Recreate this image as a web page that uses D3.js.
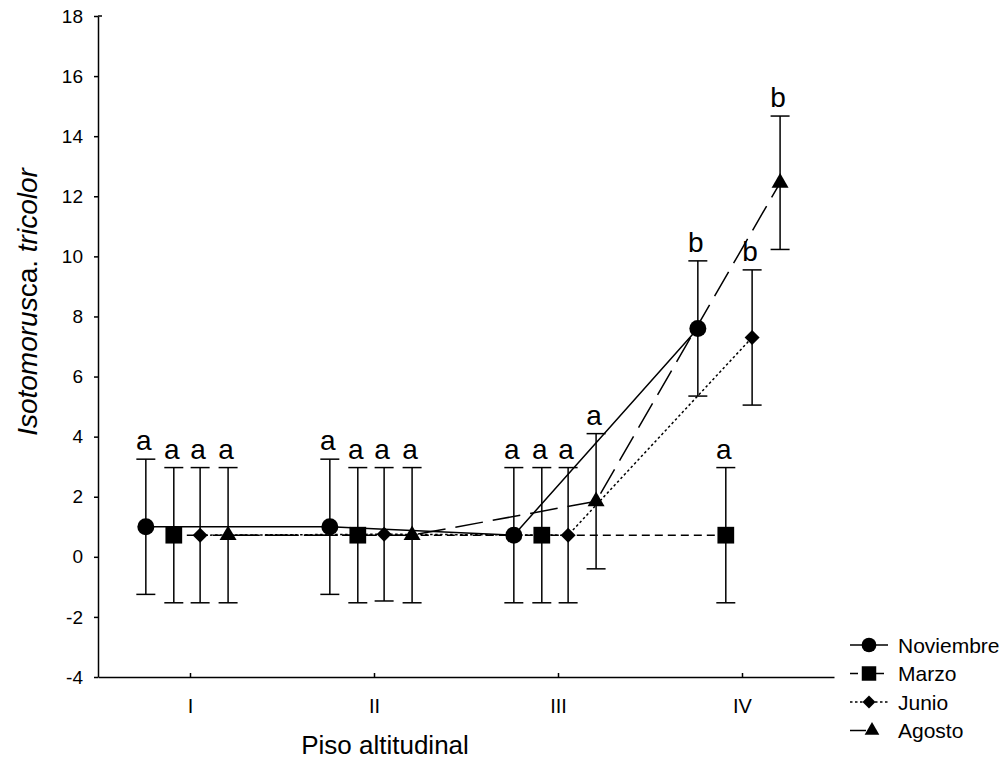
<!DOCTYPE html>
<html>
<head>
<meta charset="utf-8">
<script src="https://cdn.jsdelivr.net/npm/d3@7"></script>
<style>
  body { margin: 0; background: #fff; }
  text { font-family: "Liberation Sans", Arial, sans-serif; }
</style>
</head>
<body>
<div id="chart"></div>
<script>
// categories and series
var categories = ["I", "II", "III", "IV"];
var seriesNames = ["Noviembre", "Marzo", "Junio", "Agosto"];

var noviembre = [1.0, 1.0, 0.72, 7.6];
var marzo = [0.72, 0.72, 0.72, 0.72];
var junio = [0.72, 0.75, 0.72, 7.3];
var agosto = [0.72, 0.72, 1.85, 12.45];

var noviembreErr = [2.25, 2.25, 2.25, 2.25];
var marzoErr = [2.25, 2.25, 2.25, 2.25];
var junioErr = [2.25, 2.22, 2.25, 2.25];
var agostoErr = [2.25, 2.25, 2.25, 2.22];

var noviembreLetters = ["a", "a", "a", "b"];
var marzoLetters = ["a", "a", "a", "a"];
var junioLetters = ["a", "a", "a", "b"];
var agostoLetters = ["a", "a", "a", "b"];

var yTicks = [-4, -2, 0, 2, 4, 6, 8, 10, 12, 14, 16, 18];

var width = 1008, height = 766;

var series = [
  { name: seriesNames[0], values: noviembre, err: noviembreErr, letters: noviembreLetters,
    dodge: -0.24, dash: null, symbol: d3.symbolCircle, size: 227, rotate: 0 },
  { name: seriesNames[1], values: marzo, err: marzoErr, letters: marzoLetters,
    dodge: -0.088, dash: "8,5", symbol: d3.symbolSquare, size: 280, rotate: 0 },
  { name: seriesNames[2], values: junio, err: junioErr, letters: junioLetters,
    dodge: 0.055, dash: "2.5,2.5", symbol: d3.symbolSquare, size: 112, rotate: 45 },
  { name: seriesNames[3], values: agosto, err: agostoErr, letters: agostoLetters,
    dodge: 0.207, dash: "28,10", symbol: d3.symbolTriangle, size: 125, rotate: 0 }
];

var svg = d3.select("#chart").append("svg")
  .attr("width", width)
  .attr("height", height);

var x = d3.scaleLinear().domain([0.5, 4.5]).range([98, 834]);
var y = d3.scaleLinear().domain([-4, 18]).range([677, 16]);

// axes
var yAxis = svg.append("g")
  .attr("transform", "translate(98,0)")
  .call(d3.axisLeft(y).tickValues(yTicks).tickFormat(function (d) { return String(d); })
    .tickSize(4).tickSizeOuter(0).tickPadding(11));

var xAxis = svg.append("g")
  .attr("transform", "translate(0,677)")
  .call(d3.axisBottom(x).tickValues([1, 2, 3, 4])
    .tickFormat(function (d) { return categories[d - 1]; })
    .tickSize(-4).tickSizeOuter(0).tickPadding(22));

// small stub at the top of the y axis
yAxis.append("line").attr("x1", 0).attr("x2", 4).attr("y1", y(18)).attr("y2", y(18))
  .attr("stroke", "#000").attr("stroke-width", 1.5);

[yAxis, xAxis].forEach(function (g) {
  g.select(".domain").attr("stroke", "#000").attr("stroke-width", 1.5);
  g.selectAll(".tick line").attr("stroke", "#000").attr("stroke-width", 1.5);
  g.selectAll(".tick text").attr("fill", "#000")
    .style("font-family", "'Liberation Sans', Arial, sans-serif");
});
yAxis.attr("font-size", 19);
xAxis.attr("font-size", 20);

// axis titles
svg.append("text")
  .attr("x", 385)
  .attr("y", 754)
  .attr("text-anchor", "middle")
  .style("font-size", "26px")
  .text("Piso altitudinal");

var yTitle = svg.append("text")
  .attr("transform", "translate(37,302) rotate(-90)")
  .attr("text-anchor", "middle")
  .style("font-size", "28px");
yTitle.append("tspan").style("font-style", "italic").text("Isotomorus");
yTitle.append("tspan").style("font-style", "normal").text("ca. ");
yTitle.append("tspan").style("font-style", "italic").text("tricolor");

function px(s, i) { return x(i + 1 + s.dodge); }

// connecting lines
var line = d3.line()
  .x(function (d) { return d.x; })
  .y(function (d) { return d.y; });

series.forEach(function (s) {
  var pts = s.values.map(function (v, i) { return { x: px(s, i), y: y(v) }; });
  svg.append("path")
    .attr("d", line(pts))
    .attr("fill", "none")
    .attr("stroke", "#000")
    .attr("stroke-width", 1.5)
    .attr("stroke-dasharray", s.dash);
});

// error bars, markers, letters
series.forEach(function (s) {
  s.values.forEach(function (v, i) {
    var cx = px(s, i);
    var top = y(v + s.err[i]);
    var bot = y(v - s.err[i]);
    var g = svg.append("g");
    g.append("line").attr("x1", cx).attr("x2", cx).attr("y1", top).attr("y2", bot)
      .attr("stroke", "#000").attr("stroke-width", 1.5);
    [top, bot].forEach(function (yy) {
      g.append("line").attr("x1", cx - 9.5).attr("x2", cx + 9.5).attr("y1", yy).attr("y2", yy)
        .attr("stroke", "#000").attr("stroke-width", 1.5);
    });
    g.append("path")
      .attr("d", d3.symbol().type(s.symbol).size(s.size)())
      .attr("transform", "translate(" + cx + "," + y(v) + ") rotate(" + s.rotate + ")")
      .attr("fill", "#000");
    svg.append("text")
      .attr("x", cx - 2)
      .attr("y", top - 9)
      .attr("text-anchor", "middle")
      .style("font-size", "28px")
      .text(s.letters[i]);
  });
});

// legend
var legend = svg.append("g").attr("transform", "translate(850,645)");
series.forEach(function (s, i) {
  var row = legend.append("g").attr("transform", "translate(0," + (i * 28.5) + ")");
  if (i === 3) {
    row.append("line").attr("x1", 0).attr("x2", 16).attr("y1", 0).attr("y2", 0)
      .attr("stroke", "#000").attr("stroke-width", 1.5);
  } else {
    row.append("line").attr("x1", 0).attr("x2", 38).attr("y1", 0).attr("y2", 0)
      .attr("stroke", "#000").attr("stroke-width", 1.5)
      .attr("stroke-dasharray", s.dash);
  }
  row.append("path")
    .attr("d", d3.symbol().type(s.symbol).size(s.size * 0.75)())
    .attr("transform", "translate(" + (i === 3 ? 22 : 19) + ",0) rotate(" + s.rotate + ")")
    .attr("fill", "#000");
  row.append("text")
    .attr("x", 48)
    .attr("y", 0)
    .attr("dy", "0.36em")
    .style("font-size", "21px")
    .text(s.name);
});
</script>
</body>
</html>
